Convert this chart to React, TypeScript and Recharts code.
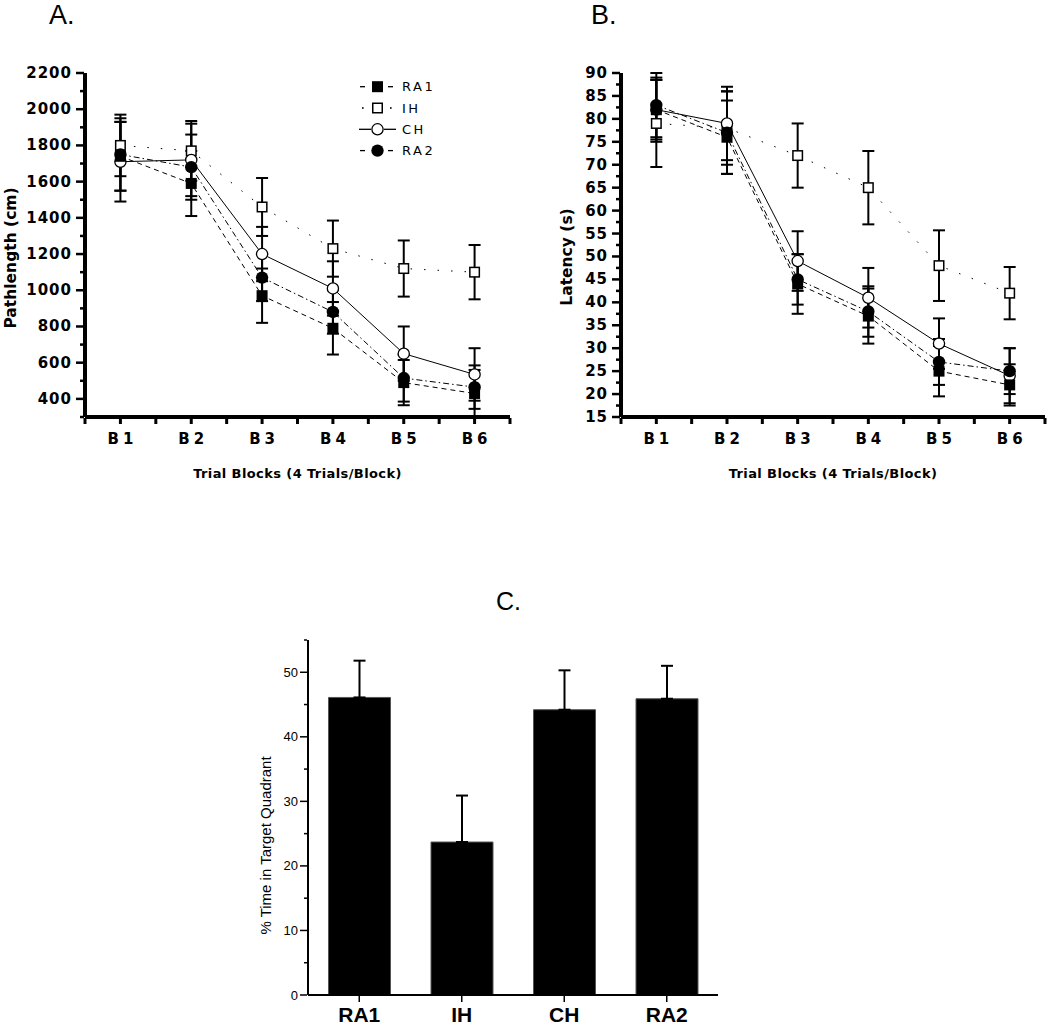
import React from 'react';
import { LineChart, Line, XAxis, YAxis, ErrorBar, Legend, BarChart, Bar } from 'recharts';

// ---------- Data ----------
const blocks = ['B1', 'B2', 'B3', 'B4', 'B5', 'B6'];

// Panel A: Pathlength (cm)
const pathRA1 = [1740, 1590, 970, 790, 490, 430];
const pathRA1Err = [190, 180, 150, 145, 125, 130];
const pathIH = [1800, 1770, 1460, 1230, 1120, 1100];
const pathIHErr = [170, 165, 160, 155, 155, 150];
const pathCH = [1710, 1720, 1200, 1010, 650, 535];
const pathCHErr = [220, 200, 150, 150, 150, 145];
const pathRA2 = [1750, 1680, 1070, 880, 515, 465];
const pathRA2Err = [200, 180, 130, 120, 130, 120];
const pathTicks = [300, 400, 500, 600, 700, 800, 900, 1000, 1100, 1200, 1300, 1400, 1500, 1600, 1700, 1800, 1900, 2000, 2100, 2200];

// Panel B: Latency (s)
const latRA1 = [82, 76, 44, 37, 25, 22];
const latRA1Err = [7, 8, 6.5, 6, 5.5, 4.5];
const latIH = [79, 78, 72, 65, 48, 42];
const latIHErr = [9.5, 8, 7, 8, 7.7, 5.7];
const latCH = [82, 79, 49, 41, 31, 24];
const latCHErr = [6.5, 8, 6.5, 6.5, 5.5, 6];
const latRA2 = [83, 77, 45, 38, 27, 25];
const latRA2Err = [7, 9, 5.5, 5.5, 5, 5];
const latTicks = [15, 17.5, 20, 22.5, 25, 27.5, 30, 32.5, 35, 37.5, 40, 42.5, 45, 47.5, 50, 52.5, 55, 57.5, 60, 62.5, 65, 67.5, 70, 72.5, 75, 77.5, 80, 82.5, 85, 87.5, 90];

// Panel C: % time in target quadrant
const groups = ['RA1', 'IH', 'CH', 'RA2'];
const pctTime = [46.1, 23.7, 44.2, 45.9];
const pctTimeErr = [5.7, 7.2, 6.1, 5.1];
const pctTicks = [0, 5, 10, 15, 20, 25, 30, 35, 40, 45, 50, 55];

// ---------- Tables ----------
const pathData = blocks.map((b, i) => ({
  block: b,
  ra1: pathRA1[i], ra1Err: pathRA1Err[i],
  ih: pathIH[i], ihErr: pathIHErr[i],
  ch: pathCH[i], chErr: pathCHErr[i],
  ra2: pathRA2[i], ra2Err: pathRA2Err[i],
}));
const latData = blocks.map((b, i) => ({
  block: b,
  ra1: latRA1[i], ra1Err: latRA1Err[i],
  ih: latIH[i], ihErr: latIHErr[i],
  ch: latCH[i], chErr: latCHErr[i],
  ra2: latRA2[i], ra2Err: latRA2Err[i],
}));
const pctData = groups.map((g, i) => ({ group: g, pct: pctTime[i], pctErr: [0, pctTimeErr[i]] }));

// ---------- Styles ----------
type MarkerType = 'fsquare' | 'osquare' | 'ocircle' | 'fcircle';
const seriesStyles: { key: string; name: string; dash?: string; marker: MarkerType }[] = [
  { key: 'ih', name: 'IH', dash: '1.5 12', marker: 'osquare' },
  { key: 'ch', name: 'CH', dash: undefined, marker: 'ocircle' },
  { key: 'ra1', name: 'RA1', dash: '5 4', marker: 'fsquare' },
  { key: 'ra2', name: 'RA2', dash: '6 3 1.5 3', marker: 'fcircle' },
];
const legendOrder = ['ra1', 'ih', 'ch', 'ra2'];

const BOLD_FONT = '"DejaVu Sans", Verdana, sans-serif';

function Marker({ cx, cy, type }: { cx: number; cy: number; type: MarkerType }) {
  if (cx == null || cy == null) return null;
  const s = 11;
  if (type === 'fsquare') return <rect x={cx - s / 2} y={cy - s / 2} width={s} height={s} fill="#000" />;
  if (type === 'osquare') return <rect x={cx - s / 2 + 0.75} y={cy - s / 2 + 0.75} width={s - 1.5} height={s - 1.5} fill="#fff" stroke="#000" strokeWidth={1.5} />;
  if (type === 'ocircle') return <circle cx={cx} cy={cy} r={5.6} fill="#fff" stroke="#000" strokeWidth={1.3} />;
  return <circle cx={cx} cy={cy} r={6.2} fill="#000" />;
}

const makeDot = (type: MarkerType) => (p: any) => (
  <g key={`dot-${type}-${p.index}`}>
    <Marker cx={p.cx} cy={p.cy} type={type} />
  </g>
);

const makeYTick = (isMajor: (v: number) => boolean, majorLen: number, minorLen: number, gap: number, font: any) => (p: any) => {
  const { x, y, payload } = p;
  const major = isMajor(payload.value);
  return (
    <g>
      <line x1={x - 1} x2={x - (major ? majorLen : minorLen)} y1={y} y2={y} stroke="#000" strokeWidth={font.tickWidth} />
      {major && (
        <text x={x - gap} y={y} textAnchor="end" dominantBaseline="central" fontFamily={font.family} fontWeight={font.weight} fontSize={font.size} letterSpacing={font.spacing} fill="#000">
          {payload.value}
        </text>
      )}
    </g>
  );
};

const makeBlockTick = (step: number) => (p: any) => {
  const { x, y, payload, index } = p;
  return (
    <g>
      <line x1={x} x2={x} y1={y + 1} y2={y + 7} stroke="#000" strokeWidth={3} />
      <line x1={x - step / 2} x2={x - step / 2} y1={y + 1} y2={y + 7} stroke="#000" strokeWidth={3} />
      {index === blocks.length - 1 && <line x1={x + step / 2} x2={x + step / 2} y1={y + 1} y2={y + 7} stroke="#000" strokeWidth={3} />}
      <text x={x + 2} y={y + 22} textAnchor="middle" dominantBaseline="central" fontFamily={BOLD_FONT} fontWeight="bold" fontSize={15} letterSpacing={4} fill="#000">
        {payload.value}
      </text>
    </g>
  );
};

const xTitle = (cxOffset: number) => (p: any) => {
  const vb = p.viewBox || { x: 0, y: 0, width: 0, height: 0 };
  return (
    <text x={vb.x + vb.width / 2 + cxOffset} y={vb.y + 56} textAnchor="middle" dominantBaseline="central" fontFamily={BOLD_FONT} fontWeight="bold" fontSize={13} letterSpacing={0.4} fill="#000">
      Trial Blocks (4 Trials/Block)
    </text>
  );
};

const yTitle = (text: string, xOff: number, yOff: number, size: number, family: string, weight: string) => (p: any) => {
  const vb = p.viewBox || { x: 0, y: 0, width: 0, height: 0 };
  const cx = vb.x + xOff;
  const cy = vb.y + vb.height / 2 + yOff;
  return (
    <text x={cx} y={cy} transform={`rotate(-90, ${cx}, ${cy})`} textAnchor="middle" dominantBaseline="central" fontFamily={family} fontWeight={weight} fontSize={size} fill="#000">
      {text}
    </text>
  );
};

const renderLegend = () => (
  <svg width={100} height={90} style={{ display: 'block' }}>
    {legendOrder.map((k, i) => {
      const s = seriesStyles.find((q) => q.key === k)!;
      const cy = 10.7 + i * 21.3;
      let segs: React.ReactNode;
      if (s.marker === 'osquare') {
        segs = (
          <g>
            <rect x={7} y={cy - 0.8} width={1.6} height={1.6} fill="#000" />
            <rect x={35} y={cy - 0.8} width={1.6} height={1.6} fill="#000" />
          </g>
        );
      } else if (s.marker === 'ocircle') {
        segs = (
          <g>
            <line x1={4} x2={16} y1={cy} y2={cy} stroke="#000" strokeWidth={1.3} />
            <line x1={29} x2={41} y1={cy} y2={cy} stroke="#000" strokeWidth={1.3} />
          </g>
        );
      } else {
        segs = (
          <g>
            <line x1={5} x2={10} y1={cy} y2={cy} stroke="#000" strokeWidth={1.3} />
            <line x1={33} x2={38} y1={cy} y2={cy} stroke="#000" strokeWidth={1.3} />
          </g>
        );
      }
      return (
        <g key={k}>
          {segs}
          <Marker cx={22.5} cy={cy} type={s.marker} />
          <text x={47} y={cy} dominantBaseline="central" fontFamily='"DejaVu Sans", sans-serif' fontSize={13} letterSpacing={2.5} fill="#000">
            {s.name}
          </text>
        </g>
      );
    })}
  </svg>
);

const boldTickFont = { family: BOLD_FONT, weight: 'bold', size: 15, spacing: 1, tickWidth: 2.5 };
const plainTickFont = { family: '"Liberation Sans", Arial, sans-serif', weight: 'normal', size: 13, spacing: 0, tickWidth: 1.5 };

const GroupTick = (p: any) => {
  const { x, y, payload } = p;
  return (
    <g>
      <line x1={x} x2={x} y1={y} y2={y + 7} stroke="#000" strokeWidth={1.5} />
      <text x={x} y={y + 27} textAnchor="middle" fontFamily='"Liberation Sans", Arial, sans-serif' fontWeight="bold" fontSize={21} fill="#000">
        {payload.value}
      </text>
    </g>
  );
};

const titleStyle = (left: number, top: number, size: number): React.CSSProperties => ({
  position: 'absolute', left, top, fontFamily: '"Liberation Sans", Arial, sans-serif', fontSize: size, lineHeight: 'normal', color: '#000',
});

function LinePanel({ data, ticks, domain, isMajor, yLabel, yLabelX, yLabelYOff, yWidth, width, marginRight, legend }: any) {
  const step = (width - yWidth - marginRight) / blocks.length;
  return (
    <LineChart width={width} height={500} data={data} margin={{ top: 73, right: marginRight, bottom: 0, left: 0 }}>
      <XAxis
        dataKey="block"
        height={83}
        padding={{ left: step / 2, right: step / 2 }}
        axisLine={{ stroke: '#000', strokeWidth: 4 }}
        tickLine={false}
        tickSize={0}
        tickMargin={0}
        interval={0}
        tick={makeBlockTick(step)}
        label={xTitle(0)}
      />
      <YAxis
        type="number"
        domain={domain}
        ticks={ticks}
        interval={0}
        width={yWidth}
        axisLine={{ stroke: '#000', strokeWidth: 4 }}
        tickLine={false}
        tickSize={0}
        tickMargin={0}
        tick={makeYTick(isMajor, 9, 5, 13, boldTickFont)}
        label={yTitle(yLabel, yLabelX, yLabelYOff, 15.5, BOLD_FONT, 'bold')}
      />
      {legend && (
        <Legend
          layout="vertical"
          align="center"
          verticalAlign="middle"
          content={renderLegend}
          wrapperStyle={{ left: 355, top: 76, width: 100, height: 90 }}
        />
      )}
      {seriesStyles.map((s) => (
        <Line
          key={s.key}
          dataKey={s.key}
          name={s.name}
          stroke="#000"
          strokeWidth={1}
          strokeDasharray={s.dash}
          dot={makeDot(s.marker)}
          activeDot={false}
          isAnimationActive={false}
          type="linear"
        >
          <ErrorBar dataKey={`${s.key}Err`} width={6} stroke="#000" strokeWidth={2} direction="y" />
        </Line>
      ))}
    </LineChart>
  );
}

export default function App() {
  return (
    <div style={{ position: 'absolute', left: 0, top: 0, width: 1050, height: 1027, background: '#fff', overflow: 'hidden' }}>
      <div style={titleStyle(49, 0, 27)}>A.</div>
      <div style={titleStyle(591, 0, 27)}>B.</div>
      <div style={titleStyle(496, 587, 25)}>C.</div>

      <div style={{ position: 'absolute', left: 0, top: 0 }}>
        <LinePanel
          data={pathData}
          ticks={pathTicks}
          domain={[300, 2200]}
          isMajor={(v: number) => v >= 400 && v % 200 === 0}
          yLabel="Pathlength (cm)"
          yLabelX={11}
          yLabelYOff={13}
          yWidth={85}
          width={530}
          marginRight={20}
          legend
        />
      </div>

      <div style={{ position: 'absolute', left: 520, top: 0 }}>
        <LinePanel
          data={latData}
          ticks={latTicks}
          domain={[15, 90]}
          isMajor={(v: number) => v % 5 === 0}
          yLabel="Latency (s)"
          yLabelX={47}
          yLabelYOff={12}
          yWidth={101}
          width={530}
          marginRight={5}
          legend={false}
        />
      </div>

      <div style={{ position: 'absolute', left: 200, top: 580 }}>
        <BarChart width={540} height={447} data={pctData} margin={{ top: 60, right: 22, bottom: 0, left: 0 }} barCategoryGap="20%">
          <XAxis
            dataKey="group"
            height={32}
            axisLine={{ stroke: '#000', strokeWidth: 2 }}
            tickLine={false}
            tickSize={0}
            tickMargin={0}
            interval={0}
            tick={GroupTick}
          />
          <YAxis
            type="number"
            domain={[0, 55]}
            ticks={pctTicks}
            interval={0}
            width={108}
            axisLine={{ stroke: '#000', strokeWidth: 2 }}
            tickLine={false}
            tickSize={0}
            tickMargin={0}
            tick={makeYTick((v: number) => v % 10 === 0, 8, 4, 10, plainTickFont)}
            label={yTitle('% Time in Target Quadrant', 65, 28, 15, '"Liberation Sans", Arial, sans-serif', 'normal')}
          />
          <Bar dataKey="pct" fill="#000" stroke="#555" strokeWidth={1} isAnimationActive={false}>
            <ErrorBar dataKey="pctErr" width={6} stroke="#000" strokeWidth={2} direction="y" />
          </Bar>
        </BarChart>
      </div>
    </div>
  );
}
